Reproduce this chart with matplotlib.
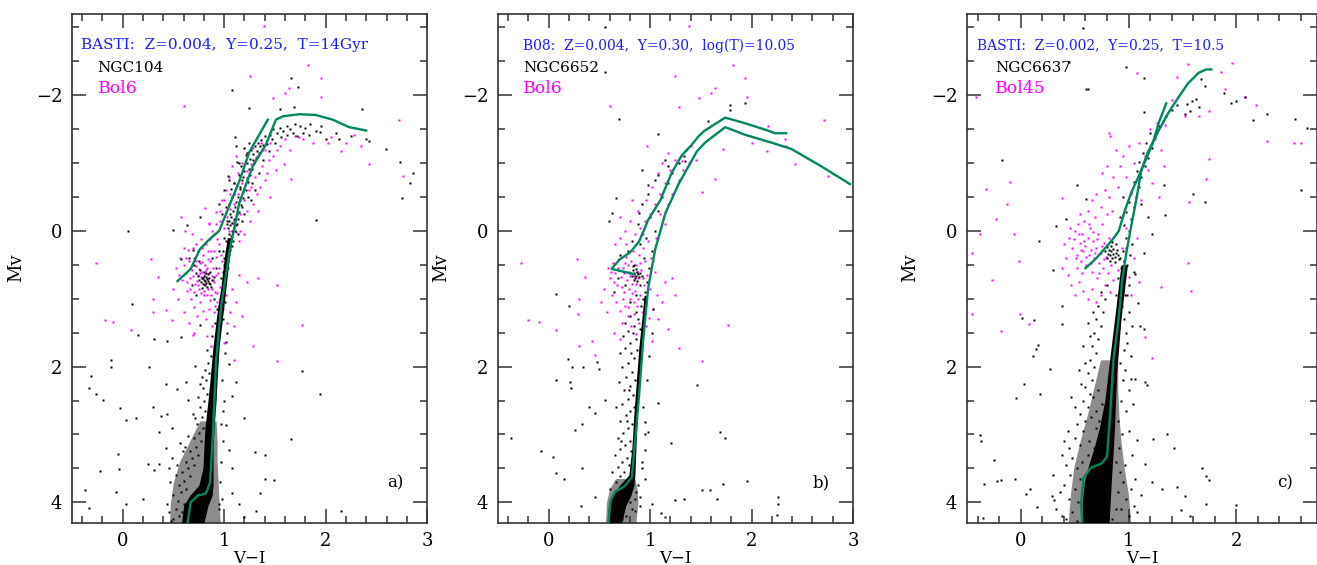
import numpy as np
import matplotlib.pyplot as plt
from matplotlib.ticker import MultipleLocator

plt.rcParams['font.family'] = ['DejaVu Serif']

ISO_COLOR = '#00875f'
BOL_COLOR = '#ff00ff'
TXT_BLUE = '#1c1cff'

# ---------------- panel a : NGC104 / Bol6 ----------------
iso_a_x = [0.64, 0.67, 0.74, 0.82, 0.86, 0.89, 0.92, 0.97, 1.05, 1.15, 1.28, 1.41, 1.51, 1.58, 1.74, 1.90, 2.07, 2.23, 2.40]
iso_a_y = [4.29, 4.00, 3.90, 3.87, 3.71, 2.97, 1.91, 1.11, 0.32, -0.42, -0.95, -1.27, -1.64, -1.69, -1.72, -1.71, -1.64, -1.53, -1.48]
hb_a_x = [0.54, 0.67, 0.76, 0.85, 0.95, 1.05, 1.15, 1.25, 1.30, 1.43]
hb_a_y = [0.74, 0.56, 0.27, 0.13, 0.00, -0.37, -0.74, -1.17, -1.30, -1.64]

seq_a_y = [4.30, 4.05, 3.90, 3.75, 3.50, 3.20, 2.90, 2.50, 2.20, 1.70, 1.20, 0.80, 0.40, 0.10]
seq_a_lo = [0.58, 0.60, 0.66, 0.75, 0.79, 0.80, 0.81, 0.84, 0.86, 0.89, 0.93, 0.97, 1.00, 1.03]
seq_a_hi = [0.80, 0.84, 0.88, 0.89, 0.89, 0.89, 0.90, 0.92, 0.93, 0.95, 0.99, 1.02, 1.05, 1.08]
cloud_a_y = [4.30, 4.00, 3.70, 3.40, 3.10, 2.80]
cloud_a_lo = [0.46, 0.47, 0.50, 0.56, 0.66, 0.76]
cloud_a_hi = [0.96, 0.95, 0.94, 0.93, 0.93, 0.92]

stars_a = [
    (0.05, 0.00), (0.09, 1.08), (0.15, 1.53), (-0.12, 1.90), (-0.12, 2.01), (-0.31, 2.14), (-0.33, 2.32),
    (-0.26, 2.41), (-0.19, 2.49), (-0.03, 2.61), (0.03, 2.78), (0.13, 2.76), (0.30, 2.60), (0.38, 2.73),
    (0.44, 2.70), (-0.05, 3.29), (-0.04, 3.51), (-0.22, 3.54), (-0.37, 3.82), (-0.33, 4.08), (-0.07, 3.85),
    (0.03, 4.03), (0.20, 3.95), (0.25, 3.44), (0.31, 3.52), (2.59, -1.21), (2.73, -1.02), (2.86, -0.85),
    (2.83, -0.70), (2.75, -0.49), (1.90, -0.16), (1.77, 2.07), (1.94, 2.40), (1.20, 2.76), (1.30, 3.26),
    (1.40, 3.30), (1.40, 3.65), (1.49, 3.67), (2.15, 4.13), (1.66, 3.07), (1.66, -2.25), (1.73, -2.12),
    (1.08, -2.08), (1.24, -1.81), (1.55, -1.80), (1.69, -1.82), (2.36, -1.79), (1.11, -1.39), (1.13, -1.01),
    (1.04, -0.81), (0.76, -0.21), (0.50, -0.02), (0.63, -0.08), (0.57, 0.42), (0.69, 0.28), (2.13, -1.36),
    (2.00, -1.35), (2.43, -1.32), (1.94, -1.46), (0.76, 1.38), (0.57, 1.56), (0.44, 1.62), (0.31, 1.59),
    (0.26, 2.01), (0.43, 2.25), (0.53, 2.33), (0.62, 2.23), (0.71, 1.99), (0.76, 2.25), (1.12, 2.23),
    (0.64, 2.49), (0.49, 2.91), (0.56, 3.13), (0.36, 2.97), (0.43, 3.20), (0.49, 3.34), (0.36, 3.44),
    (0.46, 3.50), (0.61, 3.18), (0.71, 2.76), (0.95, 4.03), (1.08, 3.87), (1.15, 4.03), (1.20, 4.21),
    (1.31, 4.13), (1.35, 3.87), (1.08, 3.50), (1.05, 3.23), (1.02, 2.86), (0.99, 2.65), (1.08, 2.44),
    (1.05, 1.96), (1.02, 1.64),
    # turnoff / subgiant cloud
    (0.50, 4.25), (0.55, 4.20), (0.52, 4.10), (0.58, 4.15), (0.60, 4.02), (0.54, 3.98), (0.50, 3.90),
    (0.57, 3.85), (0.62, 3.80), (0.55, 3.75), (0.60, 3.68), (0.66, 3.62), (0.52, 3.60), (0.58, 3.55),
    (0.64, 3.50), (0.70, 3.45), (0.62, 3.40), (0.68, 3.35), (0.74, 3.30), (0.66, 3.25), (0.72, 3.18),
    (0.77, 3.10), (0.70, 3.05), (0.75, 2.98), (0.79, 2.90), (0.73, 2.85), (0.78, 2.75), (0.81, 2.65),
    (0.76, 2.60), (0.80, 2.50), (0.83, 2.40), (0.79, 2.32), (0.82, 2.20), (0.85, 2.10), (0.81, 2.05),
    (0.84, 1.95), (0.87, 1.85), (0.72, 4.28), (0.78, 4.18), (0.68, 4.12), (0.74, 4.05), (0.46, 4.15),
    (0.48, 4.28), (0.63, 4.24), (0.95, 4.10), (0.98, 3.95), (0.96, 3.70), (0.97, 3.40), (0.99, 3.10),
    (0.97, 2.85), (1.00, 2.50), (0.98, 2.20), (1.01, 1.80), (1.03, 1.50), (0.44, 4.02), (0.47, 3.70),
    (0.53, 3.45), (0.59, 3.25), (0.64, 3.02), (0.69, 2.70), (0.74, 2.45), (0.78, 2.15), (0.83, 1.75),
    (0.88, 1.55), (0.91, 1.35), (0.93, 1.15), (0.96, 1.00), (0.99, 1.30), (1.01, 1.05),
    # red clump
    (0.78, 0.70), (0.80, 0.72), (0.82, 0.68), (0.84, 0.74), (0.86, 0.78), (0.81, 0.80), (0.79, 0.78),
    (0.83, 0.82), (0.85, 0.70), (0.77, 0.75), (0.80, 0.66), (0.88, 0.73), (0.75, 0.72), (0.82, 0.77),
    (0.84, 0.64), (0.78, 0.84), (0.87, 0.82), (0.74, 0.66), (0.80, 0.60), (0.90, 0.68), (0.76, 0.58),
    (0.72, 0.62), (0.86, 0.60), (0.70, 0.50), (0.75, 0.45), (0.88, 0.40), (0.92, 0.55), (0.95, 0.30),
    (0.65, 0.40), (0.68, 0.80), (0.72, 0.95), (0.90, 1.00), (0.95, 1.10), (0.98, 0.90), (0.99, 0.60),
    (1.00, 0.40), (0.81, 0.74), (0.83, 0.71), (0.79, 0.69), (0.85, 0.77), (0.82, 0.62),
    # upper giant branch
    (1.03, -0.10), (1.05, -0.15), (1.07, -0.20), (1.04, -0.05), (1.08, -0.12), (1.06, -0.25), (1.10, -0.18),
    (1.09, -0.30), (1.05, 0.05), (1.02, 0.15), (1.11, -0.35), (1.12, -0.42), (1.14, -0.50), (1.10, -0.55),
    (1.16, -0.62), (1.13, -0.68), (1.18, -0.75), (1.15, -0.82), (1.20, -0.88), (1.17, -0.95), (1.22, -1.00),
    (1.25, -1.06), (1.21, -1.12), (1.28, -1.14), (1.26, -1.20), (1.30, -1.25), (1.33, -1.30), (1.36, -1.34),
    (1.38, -1.27), (1.40, -1.40), (1.45, -1.42), (1.48, -1.50), (1.52, -1.45), (1.55, -1.52), (1.58, -1.48),
    (1.62, -1.55), (1.65, -1.50), (1.70, -1.58), (1.75, -1.55), (1.80, -1.52), (1.85, -1.58), (1.90, -1.48),
    (1.95, -1.55), (1.13, -0.10), (1.18, -0.35), (1.08, -0.50), (1.02, -0.35), (1.00, -0.60), (1.05, -0.75),
    (0.98, -0.25), (1.15, -1.00), (1.20, -1.22), (1.12, -1.25), (0.95, -0.40), (1.23, -0.50), (1.27, -0.70),
    (0.99, 0.95), (1.00, 0.85), (1.01, 0.75), (1.02, 0.65), (1.03, 0.55), (1.04, 0.45), (1.05, 0.35),
    (1.06, 0.28), (1.00, 0.50), (0.97, 0.70), (1.08, 0.22), (1.09, 0.15), (1.11, 0.00), (1.12, -0.08),
    (1.14, -0.18), (1.15, -0.28), (1.17, -0.38), (1.19, -0.48), (1.21, -0.60), (1.23, -0.72), (1.25, -0.82),
    (1.27, -0.92), (1.29, -1.00), (1.31, -1.08), (1.34, -1.15), (1.37, -1.20), (1.42, -1.28), (1.47, -1.35),
    (1.16, -0.65), (1.19, -0.80), (1.22, -1.15), (1.24, -1.30), (1.10, -0.70), (1.07, -0.62), (1.05, -0.40),
    (1.03, -0.15), (1.00, 0.10), (0.99, 0.30), (1.14, 0.05), (1.18, -0.15), (1.20, -0.25), (1.26, -0.45),
    (1.30, -0.60), (1.34, -0.85), (1.38, -1.05), (1.44, -1.18), (1.50, -1.30), (1.56, -1.38), (1.62, -1.42),
    (1.68, -1.45), (1.72, -1.40), (1.78, -1.45), (1.84, -1.42), (2.10, -1.45), (2.25, -1.40), (2.40, -1.35),
    (1.06, -0.08), (1.08, 0.00), (1.10, -0.05), (1.07, 0.08), (1.13, -0.25), (1.16, -0.45), (1.19, -0.58),
    (1.22, -0.78), (1.24, -0.92), (1.28, -1.05), (1.32, -1.18), (1.35, -1.25),
]

bol_a = [
    (1.39, -3.02), (1.83, -2.44), (1.25, -2.28), (1.95, -2.25), (0.60, -1.84), (1.64, -2.10), (1.60, -2.04),
    (1.95, -1.97), (1.48, -1.96), (2.72, -1.63), (2.43, -0.98), (2.76, -0.81), (1.66, -0.76), (1.59, -0.98),
    (1.45, -0.50), (1.51, -0.90), (1.74, -1.38), (2.02, -1.30), (2.15, -1.18), (2.35, -1.25), (-0.26, 0.48),
    (0.28, 0.42), (0.35, 0.68), (-0.18, 1.32), (-0.10, 1.34), (0.08, 1.46), (0.30, 1.01), (0.30, 1.19),
    (1.77, 1.38), (1.52, 1.92), (1.52, 0.79), (1.33, 0.69), (1.28, 1.70), (1.10, 1.91), (0.87, 1.70),
    (0.69, 1.54), (0.49, 1.32), (0.43, 1.17), (0.61, 0.00), (0.57, -0.21), (0.81, -0.34), (0.85, -0.11),
    # horizontal branch cloud
    (0.60, 0.50), (0.62, 0.62), (0.65, 0.45), (0.66, 0.70), (0.68, 0.58), (0.70, 0.40), (0.71, 0.78),
    (0.72, 0.52), (0.74, 0.65), (0.75, 0.85), (0.76, 0.48), (0.77, 0.92), (0.78, 0.60), (0.79, 0.35),
    (0.80, 0.88), (0.81, 0.50), (0.83, 0.95), (0.84, 0.42), (0.85, 0.62), (0.86, 1.02), (0.87, 0.30),
    (0.88, 0.85), (0.89, 0.55), (0.90, 0.75), (0.91, 1.10), (0.92, 0.38), (0.93, 0.92), (0.94, 0.62),
    (0.95, 0.20), (0.96, 0.82), (0.97, 1.05), (0.98, 0.45), (1.00, 0.70), (1.02, 0.95), (1.04, 0.55),
    (0.58, 0.72), (0.56, 0.40), (0.63, 0.88), (0.67, 1.00), (0.70, 1.12), (0.73, 1.25), (0.76, 1.05),
    (0.79, 1.18), (0.82, 1.30), (0.85, 1.15), (0.88, 1.40), (0.74, 0.30), (0.69, 0.25), (0.82, 0.20),
    (0.86, 0.12), (0.90, 0.05), (0.77, 0.12), (0.64, 0.28), (0.73, 0.74), (0.80, 0.78), (0.84, 0.70),
    (0.88, 0.66), (0.78, 0.70), (0.76, 0.62), (0.82, 0.58), (0.91, 0.90), (0.94, 1.30), (1.06, 1.20),
    (1.08, 0.85), (1.10, 1.40), (1.12, 1.05), (1.15, 0.65), (1.18, 1.25), (1.22, 0.75), (0.52, 0.55),
    (0.50, 0.85), (0.54, 1.00), (0.60, 1.20), (0.65, 1.35), (0.70, 1.50), (0.95, 1.50), (1.00, 1.65),
    (0.83, 1.55), (0.62, 0.40), (0.66, 0.55), (0.69, 0.66), (0.72, 0.44), (0.75, 0.56), (0.78, 0.46),
    (0.81, 0.64), (0.83, 0.54), (0.86, 0.44), (0.89, 0.72), (0.92, 0.65), (0.95, 0.55), (0.97, 0.35),
    (0.74, 0.80), (0.77, 0.68), (0.80, 0.95), (0.84, 0.86), (0.87, 0.95), (0.90, 1.20), (0.93, 1.05),
    (0.72, 0.20), (0.78, 0.25), (0.84, 0.30), (0.90, 0.30), (0.70, 0.90), (0.66, 0.85), (0.63, 0.75),
    (0.99, 1.15), (1.03, 1.35), (0.68, 0.05), (0.60, 0.25), (0.55, 0.65),
    # giant branch
    (1.00, -0.05), (1.03, -0.20), (1.06, -0.32), (1.08, -0.12), (1.10, -0.40), (1.12, 0.02), (1.14, -0.55),
    (1.16, -0.25), (1.18, -0.70), (1.20, -0.45), (1.22, -0.88), (1.24, -0.60), (1.26, -0.98), (1.28, -0.40),
    (1.30, -0.80), (1.32, -1.10), (1.35, -0.65), (1.37, -0.95), (1.40, -1.20), (1.42, -0.85), (1.45, -1.30),
    (0.96, -0.15), (0.92, -0.28), (0.98, -0.45), (1.02, -0.60), (1.05, -0.80), (1.08, -0.95), (1.12, -1.10),
    (0.88, 0.00), (0.85, -0.10), (0.93, 0.12), (1.15, 0.15), (1.20, 0.05), (1.25, -0.15), (1.33, -0.30),
    (1.48, -1.10), (1.55, -1.25), (1.60, -1.35), (1.70, -1.40), (1.78, -1.35), (1.88, -1.30), (2.05, -1.38),
    (2.20, -1.30), (2.28, -1.42), (1.65, -1.20), (0.92, -0.10), (0.96, -0.30), (1.00, -0.45), (1.06, -0.55),
    (1.10, -0.70), (1.14, -0.85), (1.18, -1.00), (1.22, -1.15), (1.28, -1.22), (1.36, -1.30), (1.05, 0.00),
    (1.10, -0.15), (1.16, 0.00), (1.22, -0.30), (1.26, -0.65), (1.32, -0.55), (1.40, -0.75), (1.44, -1.05),
    (1.52, -1.20),
]

# ---------------- panel b : NGC6652 / Bol6 ----------------
iso_b_x = [0.59, 0.61, 0.66, 0.75, 0.82, 0.85, 0.89, 0.93, 0.98, 1.05, 1.15, 1.28, 1.46, 1.54, 1.74, 1.93, 2.20, 2.39, 2.69, 2.97]
iso_b_y = [4.29, 3.97, 3.84, 3.76, 3.63, 3.13, 2.44, 1.64, 0.85, 0.27, -0.26, -0.69, -1.17, -1.30, -1.53, -1.42, -1.30, -1.21, -0.95, -0.69]
hb_b_x = [0.85, 0.62, 0.70, 0.80, 0.89, 0.98, 1.10, 1.21, 1.31, 1.41, 1.48, 1.54, 1.74, 1.93, 2.16, 2.23, 2.34]
hb_b_y = [0.64, 0.56, 0.42, 0.32, 0.16, -0.16, -0.45, -0.85, -1.11, -1.27, -1.40, -1.48, -1.67, -1.59, -1.48, -1.44, -1.44]

seq_b_y = [4.30, 4.05, 3.90, 3.75, 3.60, 3.20, 2.70, 2.20, 1.70, 1.20, 0.95]
seq_b_lo = [0.58, 0.59, 0.62, 0.70, 0.79, 0.82, 0.84, 0.865, 0.89, 0.925, 0.94]
seq_b_hi = [0.72, 0.76, 0.81, 0.84, 0.85, 0.86, 0.875, 0.90, 0.925, 0.955, 0.975]
cloud_b_y = [4.30, 4.00, 3.80, 3.65]
cloud_b_lo = [0.56, 0.57, 0.60, 0.66]
cloud_b_hi = [0.86, 0.88, 0.87, 0.85]

stars_b = [
    (0.56, -3.00), (0.56, -2.34), (0.69, -1.65), (1.08, -1.43), (1.57, -1.62), (1.79, -1.85), (1.94, -1.88),
    (1.79, -1.78), (0.92, -0.90), (0.98, -0.68), (0.89, -0.26), (0.66, -0.49), (0.62, -0.26), (0.59, -0.15),
    (1.08, -0.83), (1.18, -0.95), (1.33, -1.11), (1.34, -1.03), (0.07, 0.93), (0.20, 1.10), (0.19, 1.89),
    (0.23, 2.01), (0.07, 2.20), (0.21, 2.23), (0.22, 2.31), (0.34, 2.00), (0.48, 1.93), (0.50, 2.04),
    (0.40, 2.60), (0.46, 2.68), (0.56, 2.49), (0.26, 2.94), (0.33, 2.84), (-0.37, 3.05), (-0.08, 3.24),
    (0.04, 3.33), (0.07, 3.57), (0.15, 3.66), (0.33, 3.49), (0.32, 4.05), (0.46, 3.92), (1.08, 2.54),
    (0.95, 2.81), (1.21, 3.13), (1.46, 2.27), (1.69, 2.96), (1.74, 3.05), (1.72, 3.73), (1.95, 3.68),
    (2.26, 3.92), (2.26, 4.03), (2.25, 4.19), (1.51, 3.82), (1.59, 3.82), (1.66, 3.95), (1.25, 3.97),
    (1.33, 3.95), (1.11, 4.16), (1.15, 4.21), (0.85, 4.13), (1.02, 4.03), (0.90, 3.92), (0.95, 3.66),
    (0.92, 3.50), (0.95, 3.23), (0.98, 2.97),
    # blue side of the subgiant / giant branch
    (0.66, 3.70), (0.70, 3.62), (0.74, 3.55), (0.68, 3.48), (0.72, 3.40), (0.77, 3.35), (0.65, 3.30),
    (0.70, 3.22), (0.75, 3.15), (0.80, 3.10), (0.68, 3.05), (0.73, 2.98), (0.78, 2.90), (0.82, 2.85),
    (0.70, 2.80), (0.76, 2.72), (0.80, 2.65), (0.66, 2.60), (0.72, 2.55), (0.78, 2.48), (0.83, 2.42),
    (0.74, 2.35), (0.80, 2.28), (0.69, 2.22), (0.76, 2.15), (0.82, 2.08), (0.72, 2.00), (0.78, 1.95),
    (0.84, 1.88), (0.70, 1.80), (0.75, 1.72), (0.80, 1.65), (0.86, 1.60), (0.73, 1.55), (0.78, 1.48),
    (0.84, 1.40), (0.88, 1.30), (0.80, 1.25), (0.75, 1.35), (0.62, 3.55), (0.60, 3.80), (0.64, 3.90),
    (0.78, 3.80), (0.85, 3.95), (0.82, 4.10), (0.76, 4.20), (0.90, 4.05), (0.72, 4.25), (0.88, 3.75),
    (0.92, 3.40), (0.95, 3.00), (0.93, 2.60), (0.97, 2.20), (0.99, 1.85), (1.02, 1.50), (1.03, 1.15),
    (0.62, 4.10), (0.66, 4.00), (0.70, 4.15), (0.74, 3.95), (0.68, 3.85), (0.80, 4.00), (0.86, 3.85),
    (0.79, 3.45), (0.81, 3.25), (0.71, 3.10), (0.77, 2.80), (0.84, 2.60), (0.79, 2.35), (0.85, 2.20),
    (0.81, 1.80), (0.87, 1.75), (0.83, 1.50), (0.90, 1.45), (0.86, 1.20), (0.91, 1.10),
    # giant branch and clump
    (0.95, 0.90), (0.93, 1.00), (0.97, 0.75), (0.99, 0.55), (0.94, 0.40), (1.02, 0.30), (0.90, 0.20),
    (0.96, 0.10), (1.05, 0.00), (0.88, -0.10), (1.00, -0.20), (1.08, -0.30), (0.92, -0.40), (1.12, -0.50),
    (0.98, -0.55), (1.18, -0.70), (1.05, -0.75), (1.22, -0.85), (1.28, -1.00), (1.15, -1.05), (0.86, 0.95),
    (0.84, 0.50), (0.78, 0.30), (0.70, 0.35), (0.75, 0.80), (0.68, 0.70), (0.80, 1.05), (0.64, 0.90),
    (0.90, 0.80), (0.82, 0.15), (0.84, 0.62), (0.86, 0.66), (0.88, 0.63), (0.85, 0.69), (0.83, 0.58),
    (0.87, 0.60), (0.89, 0.68), (0.82, 0.66), (0.86, 0.56), (0.84, 0.72), (0.90, 0.62), (0.80, 0.62),
    (0.87, 0.74), (0.83, 0.52), (0.92, 0.66),
]

bol_b = [
    (-0.27, 0.48), (0.28, 0.42), (0.36, 0.68), (-0.20, 1.32), (-0.10, 1.34), (0.07, 1.46), (0.30, 1.01),
    (0.29, 1.22), (0.43, 1.62), (0.30, 1.69), (0.46, 1.83), (1.51, 1.92), (1.28, 1.72), (1.77, 1.38),
    (1.64, -0.76), (1.72, -1.21), (1.82, -2.44), (1.94, -2.25), (1.38, -3.02), (1.25, -2.28), (1.64, -2.10),
    (1.60, -2.04), (1.95, -1.97), (1.48, -1.96), (1.28, -1.83), (0.60, -1.84), (2.71, -1.63), (2.43, -0.98),
    (2.75, -0.81), (2.16, -1.54), (2.33, -1.35), (2.00, -1.30), (2.15, -1.18), (2.34, -1.25), (0.97, -1.25),
    (1.31, -1.03), (1.51, -0.58),
    # horizontal branch cloud
    (0.58, 0.55), (0.60, 0.70), (0.63, 0.48), (0.65, 0.62), (0.67, 0.80), (0.69, 0.42), (0.71, 0.68),
    (0.73, 0.55), (0.74, 0.90), (0.76, 0.38), (0.77, 0.72), (0.79, 0.60), (0.80, 1.00), (0.81, 0.45),
    (0.82, 0.78), (0.83, 0.30), (0.85, 0.88), (0.86, 0.50), (0.87, 1.10), (0.88, 0.70), (0.89, 0.35),
    (0.90, 0.95), (0.91, 0.58), (0.92, 1.20), (0.93, 0.25), (0.94, 0.80), (0.95, 0.45), (0.96, 1.02),
    (0.97, 0.65), (0.98, 0.15), (1.00, 0.85), (1.01, 0.40), (1.03, 1.15), (1.05, 0.60), (1.07, 0.95),
    (0.62, 0.95), (0.66, 1.05), (0.70, 1.18), (0.72, 1.35), (0.75, 1.10), (0.78, 1.25), (0.81, 1.40),
    (0.84, 1.22), (0.86, 1.52), (0.89, 1.35), (0.93, 1.50), (0.96, 1.40), (0.99, 1.28), (1.02, 1.62),
    (1.08, 1.30), (1.12, 1.05), (1.15, 0.75), (1.18, 1.45), (1.22, 0.70), (1.25, 0.95), (0.55, 0.85),
    (0.52, 1.05), (0.57, 1.20), (0.64, 1.50), (0.70, 1.60), (0.78, 0.50), (0.84, 0.66), (0.80, 0.66),
    (0.87, 0.60), (0.74, 0.62), (0.76, 0.20), (0.70, 0.10), (0.85, 0.05), (0.65, 0.20), (0.61, 0.60),
    (0.64, 0.75), (0.68, 0.55), (0.72, 0.82), (0.75, 0.48), (0.79, 0.85), (0.82, 0.92), (0.86, 0.78),
    (0.90, 0.48), (0.93, 0.70), (0.97, 0.90), (0.88, 1.00), (0.84, 1.05), (0.78, 1.12), (0.73, 1.00),
    # giant branch
    (0.90, -0.05), (0.80, -0.15), (0.95, -0.15), (1.00, -0.25), (0.88, -0.30), (1.05, -0.40), (0.96, -0.45),
    (1.10, -0.55), (1.02, -0.65), (1.15, -0.70), (1.08, -0.85), (1.20, -0.90), (1.12, -1.00), (1.25, -1.05),
    (1.30, -1.10), (1.18, -1.15), (1.35, -1.20), (1.40, -1.25), (1.10, -0.25), (1.18, -0.40), (1.22, -0.55),
    (1.28, -0.75), (1.32, -0.90), (1.38, -1.00), (1.45, -1.05), (0.93, 0.05), (1.06, 0.10), (1.15, -0.10),
    (0.75, 0.00), (0.70, -0.20), (0.82, -0.45),
]

# ---------------- panel c : NGC6637 / Bol45 ----------------
iso_c_x = [0.57, 0.56, 0.58, 0.65, 0.75, 0.80, 0.83, 0.86, 0.91, 0.94, 0.98, 1.03, 1.08, 1.12, 1.18, 1.28, 1.37, 1.46, 1.55, 1.65, 1.72, 1.77]
iso_c_y = [4.28, 4.02, 3.65, 3.49, 3.43, 3.33, 2.70, 1.90, 1.27, 0.74, 0.32, -0.11, -0.53, -0.90, -1.16, -1.48, -1.74, -1.96, -2.17, -2.33, -2.38, -2.38]
hb_c_x = [0.60, 0.69, 0.78, 0.85, 0.91, 0.97, 1.03, 1.12, 1.22, 1.28, 1.35]
hb_c_y = [0.55, 0.42, 0.26, 0.13, 0.00, -0.32, -0.58, -0.90, -1.27, -1.59, -1.88]

seq_c_y = [4.30, 4.00, 3.70, 3.45, 3.20, 2.90, 2.50, 2.10, 1.70, 1.30, 0.90, 0.50]
seq_c_lo = [0.57, 0.57, 0.59, 0.63, 0.68, 0.73, 0.78, 0.81, 0.84, 0.87, 0.90, 0.93]
seq_c_hi = [0.82, 0.83, 0.84, 0.85, 0.86, 0.87, 0.88, 0.89, 0.91, 0.93, 0.96, 0.99]
cloud_c_y = [4.30, 3.90, 3.50, 3.10, 2.70, 2.30, 1.90]
cloud_c_lo = [0.44, 0.46, 0.49, 0.55, 0.62, 0.68, 0.74]
cloud_c_hi = [1.02, 1.00, 0.96, 0.93, 0.91, 0.90, 0.90]

stars_c = [
    (0.58, -2.99), (0.45, -2.49), (0.98, -2.42), (0.62, -2.09), (1.14, -2.25), (1.14, -1.75), (-0.17, -1.05),
    (0.52, -0.68), (0.61, -0.47), (0.42, -0.18), (0.33, -0.07), (0.17, 0.15), (0.30, 0.57), (0.38, 1.11),
    (0.38, 1.37), (0.01, 1.29), (0.12, 1.31), (0.16, 1.68), (0.14, 1.74), (0.11, 1.85), (0.27, 2.03),
    (0.03, 2.26), (-0.04, 2.47), (0.18, 2.40), (-0.38, 3.01), (-0.37, 3.09), (-0.25, 3.37), (-0.34, 3.73),
    (-0.22, 3.69), (-0.18, 3.67), (-0.05, 3.65), (0.09, 3.81), (0.05, 3.88), (-0.35, 4.23), (0.15, 4.07),
    (0.29, 3.91), (0.31, 3.96), (2.16, -1.64), (2.29, -1.72), (2.55, -1.65), (2.66, -1.51), (1.89, -2.03),
    (1.95, -1.89), (2.00, -1.91), (2.08, -1.98), (2.60, -0.61), (1.71, -0.42), (1.60, -0.54), (1.33, -0.68),
    (1.34, -0.23), (1.68, 3.49), (1.72, 3.62), (1.75, 3.67), (1.72, 4.02), (2.00, 4.04), (1.36, 2.99),
    (1.42, 3.20), (1.23, 3.07), (1.08, 3.08), (1.15, 3.44), (1.22, 3.70), (1.31, 3.81), (1.45, 3.78),
    (1.52, 3.91), (1.49, 4.12), (1.57, 4.20), (1.15, 2.22), (1.17, 2.27), (1.06, 2.19), (1.02, 2.19),
    (1.14, 1.45), (1.11, 1.40), (1.09, 1.06), (1.06, 0.63), (1.14, 0.32), (1.22, 0.05), (1.18, -0.21),
    (1.54, -1.87), (1.59, -1.92), (1.63, -1.95), (1.65, -1.82), (1.57, -1.77), (1.71, -2.14), (1.67, -2.24),
    (1.52, -1.72), (0.61, -2.09),
    # blue straggler / field cloud
    (0.40, 3.10), (0.45, 3.20), (0.38, 3.30), (0.48, 3.35), (0.42, 3.45), (0.52, 3.50), (0.46, 3.60),
    (0.55, 3.65), (0.40, 3.75), (0.50, 3.80), (0.45, 3.95), (0.53, 4.00), (0.48, 4.15), (0.42, 4.25),
    (0.52, 4.28), (0.50, 3.05), (0.55, 3.15), (0.58, 2.95), (0.52, 2.85), (0.60, 2.80), (0.55, 2.70),
    (0.62, 2.60), (0.58, 2.50), (0.64, 2.40), (0.60, 2.30), (0.66, 2.20), (0.62, 2.10), (0.68, 2.00),
    (0.64, 1.90), (0.70, 1.80), (0.66, 1.70), (0.72, 1.60), (0.68, 1.50), (0.74, 1.40), (0.70, 1.30),
    (0.76, 1.20), (0.72, 1.10), (0.78, 1.00), (0.74, 0.90), (0.80, 0.80), (0.65, 2.75), (0.70, 2.65),
    (0.67, 2.45), (0.72, 2.35), (0.75, 2.55), (0.70, 2.90), (0.74, 3.05), (0.68, 3.20), (0.63, 3.10),
    (0.57, 3.40), (0.62, 3.30), (0.88, 3.40), (0.92, 3.55), (0.95, 3.70), (0.90, 3.85), (0.98, 3.95),
    (0.93, 4.10), (1.00, 4.20), (1.05, 4.05), (1.02, 3.80), (0.97, 3.45), (0.91, 3.20), (0.94, 3.00),
    (0.90, 2.80), (0.93, 2.50), (0.95, 2.20), (0.92, 1.95), (0.96, 1.75), (0.98, 1.50), (1.00, 1.20),
    (0.99, 0.95), (0.60, 3.90), (0.58, 4.20), (0.62, 4.05), (0.85, 4.25), (0.88, 4.10), (0.36, 3.85),
    (0.33, 4.10), (0.38, 4.20), (0.30, 3.60), (0.44, 2.95), (0.50, 2.60), (0.47, 2.45), (0.56, 2.25),
    (0.54, 2.05), (0.60, 1.95), (0.58, 1.70), (0.64, 1.55), (0.62, 1.35), (0.67, 1.20), (0.73, 2.80),
    (0.77, 2.70), (1.08, 4.15), (1.12, 3.90), (1.06, 3.65), (1.03, 3.30), (1.00, 2.95), (0.98, 2.65),
    (1.04, 2.55), (1.00, 2.35), (0.97, 2.05), (1.02, 1.85), (0.99, 1.65), (1.03, 1.40), (0.96, 1.30),
    # red clump
    (0.82, 0.28), (0.84, 0.30), (0.86, 0.26), (0.88, 0.32), (0.83, 0.36), (0.85, 0.40), (0.87, 0.38),
    (0.89, 0.28), (0.81, 0.34), (0.84, 0.22), (0.86, 0.34), (0.90, 0.36), (0.80, 0.40), (0.83, 0.44),
    (0.88, 0.20), (0.78, 0.30), (0.91, 0.42), (0.85, 0.16), (0.80, 0.24), (0.87, 0.46),
    # giant branch
    (0.95, 0.30), (0.98, 0.10), (1.00, 0.00), (0.96, -0.08), (1.02, -0.18), (0.98, -0.28), (1.05, -0.35),
    (1.00, -0.42), (1.07, -0.50), (1.02, -0.58), (1.10, -0.65), (1.05, -0.72), (1.12, -0.80), (1.08, -0.88),
    (1.15, -0.95), (1.10, -1.02), (1.18, -1.08), (1.13, -1.15), (1.22, -1.22), (1.16, -1.30), (1.25, -1.38),
    (1.20, -1.45), (1.28, -1.55), (1.32, -1.62), (1.35, -1.70), (1.40, -1.78), (1.45, -1.85), (0.93, 0.55),
    (0.95, 0.75), (0.97, 0.95), (0.92, 0.40), (0.90, 0.70), (0.94, 1.10), (0.88, 0.95), (1.03, 0.20),
    (0.99, 0.50), (1.05, 0.60), (0.95, -0.50), (0.92, -0.20), (1.12, -0.40), (0.96, 0.45), (0.98, 0.25),
    (1.01, 0.35), (0.97, 0.62), (1.00, 0.80), (0.94, 0.88),
]

bol_c = [
    (-0.42, -1.97), (-0.32, -0.62), (-0.23, -0.18), (-0.38, 0.05), (-0.45, 0.32), (-0.27, 0.73), (-0.10, -0.72),
    (-0.13, -0.40), (-0.06, 0.05), (-0.02, 0.45), (-0.18, 1.48), (-0.45, 1.22), (-0.01, 1.22), (0.08, 1.37),
    (0.38, -0.49), (0.82, -1.45), (1.55, -2.46), (1.96, -2.47), (1.86, -2.35), (1.90, -2.09), (2.08, -1.98),
    (2.18, -1.85), (2.29, -1.33), (2.54, -1.29), (2.60, -1.29), (1.75, -1.06), (1.72, -0.76), (1.56, -0.43),
    (1.55, 0.48), (1.58, 0.88), (1.30, 0.83), (1.22, 1.88), (1.15, 1.56), (1.08, -2.33), (1.75, -1.77),
    (1.65, -1.69), (1.52, -1.69), (1.45, -2.27), (1.40, -1.93), (1.34, -1.56), (1.26, -1.59),
    # horizontal branch cloud
    (0.45, 0.10), (0.48, 0.25), (0.50, 0.00), (0.52, 0.35), (0.53, -0.10), (0.55, 0.18), (0.56, 0.45),
    (0.57, 0.05), (0.58, 0.30), (0.59, -0.15), (0.60, 0.22), (0.61, 0.50), (0.62, 0.10), (0.63, 0.35),
    (0.64, -0.05), (0.65, 0.28), (0.66, 0.60), (0.67, 0.15), (0.68, 0.40), (0.69, -0.20), (0.70, 0.25),
    (0.71, 0.70), (0.72, 0.05), (0.73, 0.48), (0.74, 0.32), (0.75, -0.10), (0.76, 0.55), (0.77, 0.18),
    (0.78, 0.80), (0.79, 0.38), (0.80, -0.25), (0.81, 0.62), (0.82, 0.10), (0.83, 0.90), (0.84, 0.50),
    (0.86, 0.72), (0.88, 0.05), (0.90, 0.58), (0.92, 0.85), (0.94, 0.25), (0.96, 0.45), (0.98, -0.05),
    (1.00, 0.68), (1.02, 0.95), (1.05, 0.40), (1.08, 0.10), (1.10, 0.75), (0.42, 0.40), (0.40, 0.20),
    (0.38, 0.55), (0.44, 0.65), (0.47, 0.80), (0.50, 0.95), (0.54, 0.75), (0.58, 0.88), (0.62, 1.00),
    (0.66, 0.85), (0.70, 1.05), (0.74, 0.95), (0.55, -0.25), (0.52, 0.55), (0.46, -0.05), (0.57, 0.62),
    (0.49, 0.12), (0.51, 0.40), (0.54, 0.05), (0.56, 0.28), (0.59, 0.15), (0.61, 0.38), (0.63, -0.10),
    (0.65, 0.48), (0.67, 0.02), (0.69, 0.32), (0.71, 0.12), (0.73, 0.62), (0.75, 0.22), (0.77, 0.42),
    # giant branch
    (0.62, -0.30), (0.66, -0.45), (0.70, -0.55), (0.74, -0.35), (0.78, -0.60), (0.82, -0.50), (0.86, -0.80),
    (0.85, -0.30), (0.90, -0.65), (0.92, -0.95), (0.95, -1.10), (0.98, -0.80), (1.00, -1.25), (1.02, -0.55),
    (1.05, -1.00), (1.08, -0.75), (1.10, -1.30), (1.12, -0.45), (1.15, -1.10), (1.18, -0.90), (1.20, -1.50),
    (1.22, -0.70), (1.25, -1.35), (1.28, -0.50), (1.30, -1.20), (1.33, -0.95), (0.88, -1.20), (0.83, -1.40),
    (0.80, -0.95), (0.75, -0.85),
]


def draw_panel(ax, stars, bol, seq, cloud, iso, hb, xmax, msize, texts, tag):
    bx, by = np.array(bol).T
    ax.plot(bx, by, 's', color=BOL_COLOR, ms=1.7, mec='none', zorder=2)
    ax.fill_betweenx(cloud[0], cloud[1], cloud[2], color='black', alpha=0.45, lw=0, zorder=1)
    sx, sy = np.array(stars).T
    ax.plot(sx, sy, 's', color='black', ms=msize, mec='none', zorder=3)
    ax.fill_betweenx(seq[0], seq[1], seq[2], color='black', lw=0, zorder=3)
    ax.plot(iso[0], iso[1], color=ISO_COLOR, lw=1.7, zorder=5)
    ax.plot(hb[0], hb[1], color=ISO_COLOR, lw=1.7, zorder=5)

    ax.set_xlim(-0.5, xmax)
    ax.set_ylim(4.3, -3.2)
    ax.xaxis.set_major_locator(MultipleLocator(1))
    ax.xaxis.set_minor_locator(MultipleLocator(0.2))
    ax.yaxis.set_major_locator(MultipleLocator(2))
    ax.yaxis.set_minor_locator(MultipleLocator(0.5))
    ax.tick_params(which='both', direction='in', top=True, right=True, width=1.1, color='#333333')
    ax.tick_params(which='major', length=10, labelsize=13, pad=7)
    ax.tick_params(which='minor', length=5)
    for sp in ax.spines.values():
        sp.set_linewidth(1.2)
        sp.set_color('#333333')
    ax.set_xlabel('V\u2212I', fontsize=12, labelpad=0)
    ax.set_ylabel('Mv', fontsize=13, labelpad=8)

    (t0, x0, fs), (t1, t2, x1) = texts
    ax.text(x0, 0.938, t0, color=TXT_BLUE, fontsize=fs, transform=ax.transAxes, va='center')
    ax.text(x1, 0.894, t1, color='black', fontsize=11, transform=ax.transAxes, va='center')
    ax.text(x1, 0.853, t2, color=BOL_COLOR, fontsize=12.5, transform=ax.transAxes, va='center')
    ax.text(0.91, 0.078, tag, fontsize=12, transform=ax.transAxes, ha='center', va='center')


fig = plt.figure(figsize=(13.17, 5.65), dpi=100)
ax_a = fig.add_axes([0.0547, 0.075, 0.2696, 0.9005])
ax_b = fig.add_axes([0.3781, 0.075, 0.2696, 0.9005])
ax_c = fig.add_axes([0.7342, 0.075, 0.2658, 0.9005])

draw_panel(ax_a, stars_a, bol_a, (seq_a_y, seq_a_lo, seq_a_hi), (cloud_a_y, cloud_a_lo, cloud_a_hi),
           (iso_a_x, iso_a_y), (hb_a_x, hb_a_y), 3.0, 1.8,
           (('BASTI:  Z=0.004,  Y=0.25,  T=14Gyr', 0.025, 11.0), ('NGC104', 'Bol6', 0.072)), 'a)')
draw_panel(ax_b, stars_b, bol_b, (seq_b_y, seq_b_lo, seq_b_hi), (cloud_b_y, cloud_b_lo, cloud_b_hi),
           (iso_b_x, iso_b_y), (hb_b_x, hb_b_y), 3.0, 1.8,
           (('B08:  Z=0.004,  Y=0.30,  log(T)=10.05', 0.07, 10.0), ('NGC6652', 'Bol6', 0.07)), 'b)')
draw_panel(ax_c, stars_c, bol_c, (seq_c_y, seq_c_lo, seq_c_hi), (cloud_c_y, cloud_c_lo, cloud_c_hi),
           (iso_c_x, iso_c_y), (hb_c_x, hb_c_y), 2.75, 2.1,
           (('BASTI:  Z=0.002,  Y=0.25,  T=10.5', 0.03, 10.0), ('NGC6637', 'Bol45', 0.08)), 'c)')

fig.savefig('out.png', dpi=100)
